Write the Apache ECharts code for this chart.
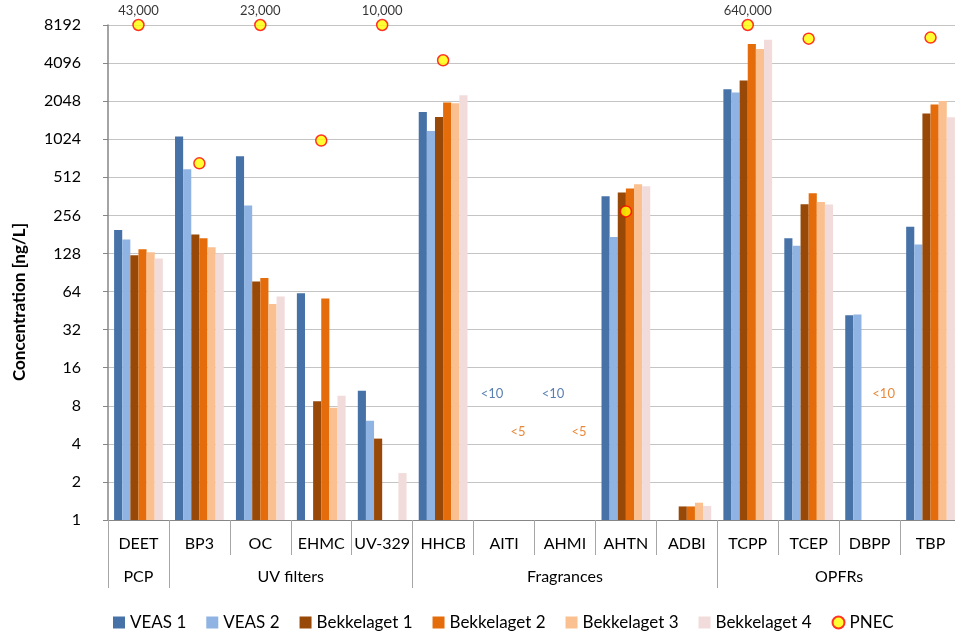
<!DOCTYPE html>
<html>
<head>
<meta charset="utf-8">
<script src="https://cdn.jsdelivr.net/npm/echarts@6/dist/echarts.min.js"></script>
<style>
  html, body { margin: 0; padding: 0; background: #ffffff; }
  #chart { width: 955px; height: 631px; }
</style>
</head>
<body>
<div id="chart"></div>
<script>
// Compounds along the x axis and their substance groups
const compounds = ['DEET', 'BP3', 'OC', 'EHMC', 'UV-329', 'HHCB', 'AITI', 'AHMI', 'AHTN', 'ADBI', 'TCPP', 'TCEP', 'DBPP', 'TBP'];
const groupNames = ['PCP', 'UV filters', 'Fragrances', 'OPFRs'];
const groupSizes = [1, 4, 5, 4];

// Concentrations in ng/L per sampling site (null = not detected)
const veas1 = [196, 1075, 750, 62, 10.5, 1684, null, null, 363, null, 2542, 169, 41.6, 208];
const veas2 = [165, 593, 306, null, 6.1, 1190, null, null, 173, null, 2398, 147, 42.2, 151];
const bekkelaget1 = [124, 181, 77, 8.7, 4.4, 1537, null, null, 388, 1.28, 2978, 314, null, 1635];
const bekkelaget2 = [138, 169, 82, 56.5, null, 1994, null, null, 418, 1.28, 5800, 383, null, 1926];
const bekkelaget3 = [131, 143, 51, 7.7, null, 1968, null, null, 451, 1.37, 5290, 327, null, 2057];
const bekkelaget4 = [117, 128, 58.5, 9.6, 2.35, 2280, null, null, 435, 1.29, 6273, 312, null, 1528];

// Predicted no-effect concentrations (ng/L)
const pnec = [43000, 660, 23000, 1000, 10000, 4310, null, null, 275, null, 640000, 6390, null, 6510];

// Detection limits noted for compounds that were not found
const limitNotes = [
  { compound: 'AITI', limit: 10, text: '<10', site: 'VEAS' },
  { compound: 'AITI', limit: 5, text: '<5', site: 'Bekkelaget' },
  { compound: 'AHMI', limit: 10, text: '<10', site: 'VEAS' },
  { compound: 'AHMI', limit: 5, text: '<5', site: 'Bekkelaget' },
  { compound: 'DBPP', limit: 10, text: '<10', site: 'Bekkelaget' }
];

// Log2 value axis range: one tick per doubling
const yMin = 1;
const yMax = 8192;

const FONT = 'Lato, "Noto Sans", sans-serif';
const barColors = ['#4672a8', '#8fb4e3', '#984807', '#e46c0a', '#fac090', '#f2dcdb'];
const noteColors = { VEAS: '#2f5f9e', Bekkelaget: '#e46c0a' };
const noteShift = { VEAS: -12, Bekkelaget: 14 };

// Group boundaries and centres in category units
const groupEdges = [0];
groupSizes.forEach(n => groupEdges.push(groupEdges[groupEdges.length - 1] + n));
const groupCentres = groupNames.map((_, i) => (groupEdges[i] + groupEdges[i + 1]) / 2);

const siteSeries = [
  ['VEAS 1', veas1], ['VEAS 2', veas2],
  ['Bekkelaget 1', bekkelaget1], ['Bekkelaget 2', bekkelaget2],
  ['Bekkelaget 3', bekkelaget3], ['Bekkelaget 4', bekkelaget4]
];

const fmtThousands = v => String(v).replace(/\B(?=(\d{3})+(?!\d))/g, ',');

const series = siteSeries.map(([name, values], i) => ({
  name: name,
  type: 'bar',
  xAxisIndex: 0,
  data: values.map(v => (v == null ? '-' : v)),
  barGap: '0%',
  barCategoryGap: '20%',
  itemStyle: { color: barColors[i] },
  emphasis: { disabled: true }
}));

// PNEC markers; values above the axis top sit on the top line with their value written above
series.push({
  name: 'PNEC',
  type: 'scatter',
  xAxisIndex: 0,
  clip: false,
  z: 5,
  symbol: 'circle',
  symbolSize: 11,
  itemStyle: { color: '#ffff00', borderColor: '#ff0000', borderWidth: 1.5 },
  data: compounds.map((c, i) => {
    const v = pnec[i];
    if (v == null) return null;
    return {
      value: [c, Math.min(v, yMax)],
      label: {
        show: v > yMax,
        position: 'top',
        distance: 1,
        formatter: fmtThousands(v),
        color: '#000000',
        fontSize: 13,
        fontFamily: FONT
      }
    };
  }).filter(d => d !== null)
});

// Detection-limit notes
series.push({
  name: 'limits',
  type: 'scatter',
  xAxisIndex: 0,
  symbolSize: 0,
  silent: true,
  z: 4,
  data: limitNotes.map(n => ({
    value: [n.compound, n.limit],
    label: {
      show: true,
      position: 'inside',
      formatter: n.text,
      color: noteColors[n.site],
      offset: [noteShift[n.site], 0],
      fontSize: 13,
      fontFamily: FONT
    }
  }))
});

const chart = echarts.init(document.getElementById('chart'), null, { renderer: 'canvas' });

chart.setOption({
  animation: false,
  backgroundColor: '#ffffff',
  textStyle: { fontFamily: FONT },
  grid: { left: 108, top: 25, width: 853, height: 495, containLabel: false, outerBoundsMode: 'none' },
  legend: {
    left: 108,
    top: 609,
    itemWidth: 12,
    itemHeight: 12,
    itemGap: 20,
    selectedMode: false,
    textStyle: { fontSize: 17, color: '#000000', fontFamily: FONT },
    data: [
      { name: 'VEAS 1', icon: 'rect' },
      { name: 'VEAS 2', icon: 'rect' },
      { name: 'Bekkelaget 1', icon: 'rect' },
      { name: 'Bekkelaget 2', icon: 'rect' },
      { name: 'Bekkelaget 3', icon: 'rect' },
      { name: 'Bekkelaget 4', icon: 'rect' },
      { name: 'PNEC', icon: 'circle' }
    ]
  },
  xAxis: [
    {
      type: 'category',
      data: compounds,
      position: 'bottom',
      axisLine: { lineStyle: { color: '#868686', width: 1 } },
      axisTick: { show: true, interval: 0, length: 35, lineStyle: { color: '#a6a6a6' } },
      axisLabel: { interval: 0, margin: 16, fontSize: 16, lineHeight: 16, color: '#000000' },
      splitLine: { show: false }
    },
    {
      type: 'value',
      min: 0,
      max: compounds.length,
      position: 'bottom',
      axisLine: { show: false },
      splitLine: { show: false },
      axisTick: { show: true, customValues: groupEdges, length: 68, lineStyle: { color: '#a6a6a6' } },
      axisLabel: {
        customValues: groupCentres,
        margin: 49,
        fontSize: 16,
        lineHeight: 16,
        color: '#000000',
        formatter: v => {
          const k = groupCentres.findIndex(c => Math.abs(c - v) < 1e-6);
          return k >= 0 ? groupNames[k] : '';
        }
      }
    }
  ],
  yAxis: {
    type: 'log',
    logBase: 2,
    min: yMin,
    max: yMax,
    splitNumber: 13,
    interval: 1,
    axisLine: { show: true, lineStyle: { color: '#868686', width: 1.5 } },
    axisTick: { show: true, length: 5, lineStyle: { color: '#868686' } },
    axisLabel: { margin: 27, fontSize: 16, color: '#000000', formatter: v => String(Math.round(v)) },
    splitLine: { show: true, lineStyle: { color: '#c4c4c4', width: 1 } }
  },
  graphic: [
    {
      type: 'text',
      x: 20,
      y: 302,
      rotation: Math.PI / 2,
      style: {
        text: 'Concentration [ng/L]',
        fontSize: 17,
        fontWeight: 'bold',
        fontFamily: FONT,
        fill: '#000000',
        align: 'center',
        verticalAlign: 'middle'
      }
    }
  ],
  series: series
});
</script>
</body>
</html>
